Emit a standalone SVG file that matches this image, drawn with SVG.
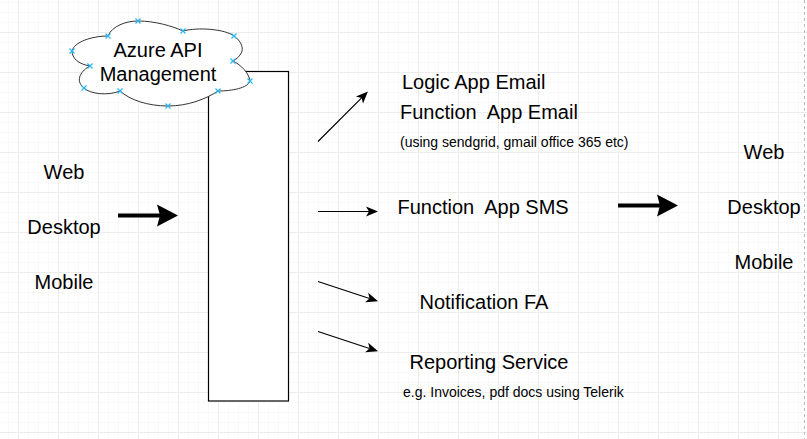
<svg xmlns="http://www.w3.org/2000/svg" width="807" height="439" viewBox="0 0 807 439">
<style>
text{font-family:"Liberation Sans",Arial,sans-serif;font-size:20px;fill:#000;white-space:pre}
text.s{font-size:14px}
.c{text-anchor:middle}
.box{fill:#fff;stroke:#000;stroke-width:1.2}
.thin{fill:none;stroke:#000;stroke-width:1.2}
.thick{fill:none;stroke:#000;stroke-width:4}
.x{fill:none;stroke:#29b6f2;stroke-width:1.2}
</style>
<defs>
<pattern id="grid" patternUnits="userSpaceOnUse" x="18" y="32" width="40" height="40">
<rect width="40" height="40" fill="#fff"/>
<path d="M10 0v40M20 0v40M30 0v40M0 10h40M0 20h40M0 30h40" transform="translate(.5 .5)" stroke="#f9f9f9" stroke-width="1" fill="none"/>
<path d="M0 0v40M0 0h40" transform="translate(.5 .5)" stroke="#ececec" stroke-width="1" fill="none"/>
</pattern>
<marker id="a" markerUnits="userSpaceOnUse" markerWidth="14" markerHeight="12" refX="3" refY="5" orient="auto" overflow="visible">
<path d="M0 0L12 5L0 10L3 5Z" fill="#000"/>
</marker>
<marker id="b" markerUnits="userSpaceOnUse" markerWidth="24" markerHeight="24" refX="6" refY="11" orient="auto" overflow="visible">
<path d="M0 0L21 11L0 22L3 11Z" fill="#000"/>
</marker>
<path id="m" class="x" d="M-2.500-2.500L2.500 2.500M-2.500 2.500L2.500-2.500"/>
</defs>
<rect width="807" height="439" fill="url(#grid)"/>
<path d="M804.500 0V439" stroke="#bbb" stroke-dasharray="3 3" fill="none"/>

<g id="connectors">
<path class="thick" d="M118 215.500H163" marker-end="url(#b)"/>
<path class="thick" d="M618 205.500H663" marker-end="url(#b)"/>
<path class="thin" d="M318 141.500L361.600 97.900" marker-end="url(#a)"/>
<path class="thin" d="M318 211.500H369" marker-end="url(#a)"/>
<path class="thin" d="M318 281.500L369.500 298.500" marker-end="url(#a)"/>
<path class="thin" d="M318 331.500L369.500 348.500" marker-end="url(#a)"/>
</g>

<g id="service-box"><rect class="box" x="208.500" y="71.500" width="80" height="329.500"/></g>

<g id="azure-cloud">
<path d="M108 36C112 26 126 21 138 21C155 21 172 26 183 31C198 27 225 29 234 36C241 41 243 47 242 51C241 55 237 59 233 61C241 65 249 73 250 81C248 88 232 91 218 91C206 99 188 106 168 106C148 106 130 100 120 91C108 96 90 94 84 88C74 80 82 70 90 66C78 64 72 58 72 51C74 42 92 36 108 36Z" fill="#fff" stroke="#333" stroke-width="1"/>
<use href="#m" x="138" y="21"/><use href="#m" x="183" y="31"/><use href="#m" x="234" y="36"/><use href="#m" x="233" y="61"/>
<use href="#m" x="250" y="81"/><use href="#m" x="218" y="91"/><use href="#m" x="168" y="106"/><use href="#m" x="120" y="91"/>
<use href="#m" x="84" y="88"/><use href="#m" x="90" y="66"/><use href="#m" x="72" y="51"/><use href="#m" x="108" y="36"/>
<text class="c" x="158" y="57">Azure API</text>
<text class="c" x="158" y="81">Management</text>
</g>

<g id="clients-left">
<text class="c" x="64" y="179">Web</text>
<text class="c" x="64" y="234">Desktop</text>
<text class="c" x="64" y="289">Mobile</text>
</g>

<g id="clients-right">
<text class="c" x="764" y="159">Web</text>
<text class="c" x="764" y="214">Desktop</text>
<text class="c" x="764" y="269">Mobile</text>
</g>

<g id="email-services">
<text x="402" y="89">Logic App Email</text>
<text x="400" y="119">Function  App Email</text>
<text class="s" x="400" y="147">(using sendgrid, gmail office 365 etc)</text>
</g>
<g id="sms-service"><text x="397.500" y="214">Function  App SMS</text></g>
<g id="notification-service"><text x="419.500" y="309">Notification FA</text></g>
<g id="reporting-service">
<text x="409.500" y="369">Reporting Service</text>
<text class="s" x="403" y="397">e.g. Invoices, pdf docs using Telerik</text>
</g>
</svg>
